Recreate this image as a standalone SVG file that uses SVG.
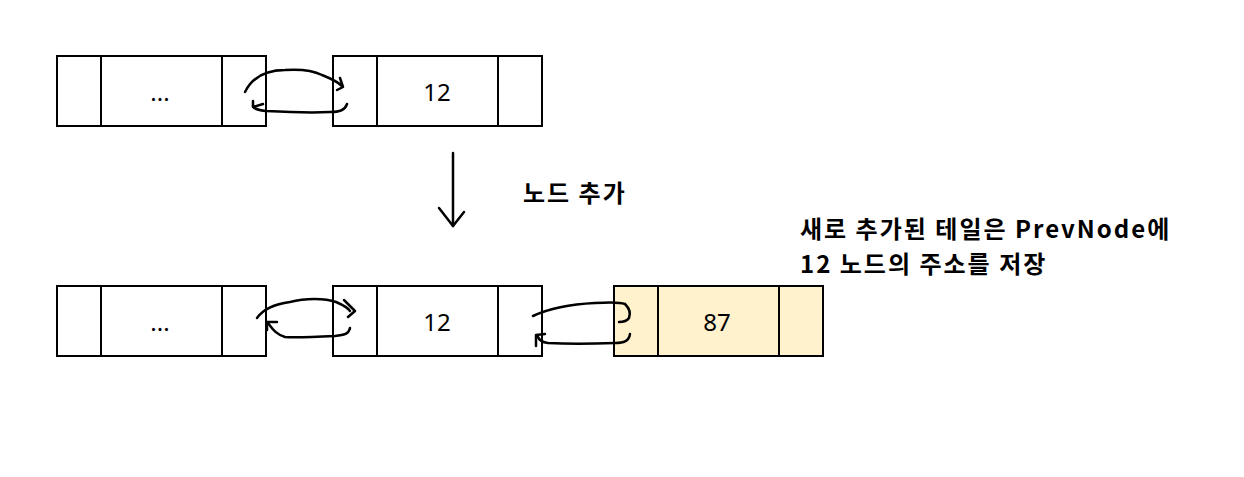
<svg xmlns="http://www.w3.org/2000/svg" width="1244" height="477" viewBox="0 0 1244 477">
<style>
.box{fill:#ffffff;stroke:#000;stroke-width:2}
.new{fill:#fff2cc;stroke:#000;stroke-width:2}
.div{stroke:#000;stroke-width:2}
.val{font-family:"Noto Sans","Open Sans",sans-serif;font-size:24px;fill:#000;text-anchor:middle}
.lbl{font-family:"Noto Sans CJK KR","Noto Sans",sans-serif;font-size:24px;font-weight:bold;letter-spacing:2px;fill:#000}
.ink{fill:none;stroke:#000;stroke-width:2.5;stroke-linecap:round;stroke-linejoin:round}
</style>
<rect width="1244" height="477" fill="#fff"/>
<g id="top-node-1">
<rect class="box" x="57" y="56" width="209" height="70"/>
<line class="div" x1="101" y1="56" x2="101" y2="126"/>
<line class="div" x1="222" y1="56" x2="222" y2="126"/>
<text class="val" x="160" y="101">...</text>
</g>
<g id="top-node-2">
<rect class="box" x="333" y="56" width="209" height="70"/>
<line class="div" x1="377" y1="56" x2="377" y2="126"/>
<line class="div" x1="498" y1="56" x2="498" y2="126"/>
<text class="val" x="437" y="101">12</text>
</g>
<g id="bottom-node-1">
<rect class="box" x="57" y="286" width="209" height="70"/>
<line class="div" x1="101" y1="286" x2="101" y2="356"/>
<line class="div" x1="222" y1="286" x2="222" y2="356"/>
<text class="val" x="160" y="331">...</text>
</g>
<g id="bottom-node-2">
<rect class="box" x="333" y="286" width="209" height="70"/>
<line class="div" x1="377" y1="286" x2="377" y2="356"/>
<line class="div" x1="498" y1="286" x2="498" y2="356"/>
<text class="val" x="437" y="331">12</text>
</g>
<g id="bottom-node-3">
<rect class="new" x="614" y="286" width="209" height="70"/>
<line class="div" x1="658" y1="286" x2="658" y2="356"/>
<line class="div" x1="779" y1="286" x2="779" y2="356"/>
<text class="val" x="717" y="331">87</text>
</g>
<g id="label-add">
<text class="lbl" x="523" y="202">노드 추가</text>
</g>
<g id="label-note">
<text class="lbl" x="800" y="238">새로 추가된 테일은 PrevNode에</text>
<text class="lbl" x="800" y="273">12 노드의 주소를 저장</text>
</g>
<g id="connectors">
<path class="ink" d="M453 153 L453 226"/>
<path class="ink" d="M439 208 L453 226 L464 212"/>
<path class="ink" d="M245 92 C252 78 265 70 285 70 C300 69 312 70 322 75 C332 79 338 82 342 86"/>
<path class="ink" d="M340 78 L343 87 L337 90"/>
<path class="ink" d="M347 104 C345 110 340 112 330 112 C310 113 285 112 266 111 C258 110 254 109 253 106"/>
<path class="ink" d="M253 101 L253 107 L263 104"/>
<path class="ink" d="M257 318 C264 308 275 304 290 302 C305 298 325 298 336 302 C343 305 348 308 350 311"/>
<path class="ink" d="M344 300 L355 311 L348 317"/>
<path class="ink" d="M350 328 C349 334 344 335 335 336 C315 337 295 338 285 337 C275 334 272 328 268 323"/>
<path class="ink" d="M267 330 L267 322 L277 322"/>
<path class="ink" d="M533 316 C550 308 575 304 595 303 C610 302 620 302 625 304 C629 308 631 313 629 318 C627 321 623 322 619 322"/>
<path class="ink" d="M630 334 C629 341 624 343 615 343 C590 344 565 344 548 343 C541 342 539 340 538 337"/>
<path class="ink" d="M536 346 L536 335 L545 334"/>
</g>
</svg>
